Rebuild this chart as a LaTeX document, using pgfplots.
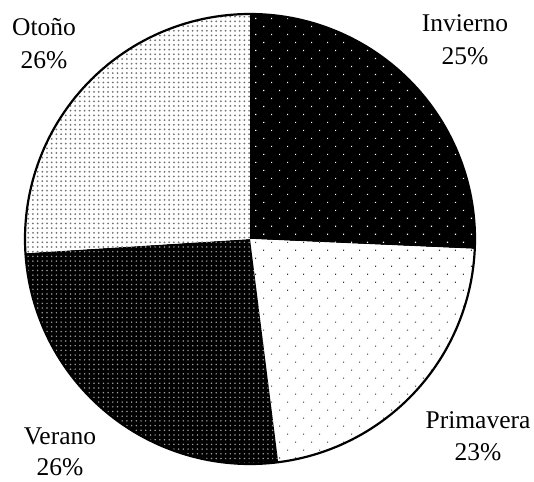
\documentclass[border=0pt]{standalone}
\usepackage{fontspec}
\setmainfont{Liberation Serif}
\usepackage{pgfplots}
\pgfplotsset{compat=1.18}
\usepgfplotslibrary{polar}
\usetikzlibrary{patterns.meta}

% season shares (percent), clockwise from the top
\def\vInvierno{25.7}
\def\vPrimavera{22.3}
\def\vVerano{26.0}
\def\vOtono{26.0}

\begin{document}
\begin{tikzpicture}[x=1bp,y=1bp]
\useasboundingbox (-250,-243) rectangle (284,239);
\pgfmathsetmacro\aA{90}
\pgfmathsetmacro\aB{\aA-3.6*\vInvierno}
\pgfmathsetmacro\aC{\aB-3.6*\vPrimavera}
\pgfmathsetmacro\aD{\aC-3.6*\vVerano}
\pgfmathsetmacro\aE{\aD-3.6*\vOtono}
\begin{polaraxis}[
  at={(0,0)}, anchor=origin,
  scale only axis, width=450bp, height=450bp,
  hide axis, ymin=0, ymax=1, clip=false,
]
% Invierno: black with sparse white dots
\addplot[draw=none, fill=black, domain=\aB:\aA, samples=80,
  postaction={pattern={Dots[distance=11.3bp, angle=45, radius=0.8bp]}, pattern color=white}]
  {1} -- (axis cs:0,0) -- cycle;
% Primavera: white with sparse black dots
\addplot[draw=none, fill=white, domain=\aC:\aB, samples=80,
  postaction={pattern={Dots[distance=11.3bp, angle=45, radius=0.75bp]}, pattern color=black!80}]
  {1} -- (axis cs:0,0) -- cycle;
% Verano: black with dense white dots
\addplot[draw=none, fill=black, domain=\aD:\aC, samples=80,
  postaction={pattern={Dots[distance=4.7bp, radius=0.85bp]}, pattern color=gray!80}]
  {1} -- (axis cs:0,0) -- cycle;
% Otono: white with dense gray dots
\addplot[draw=none, fill=white, domain=\aE:\aD, samples=80,
  postaction={pattern={Dots[distance=4.7bp, radius=1bp]}, pattern color=black!55}]
  {1} -- (axis cs:0,0) -- cycle;
% outline
\addplot[black, line width=2.2bp, domain=0:360, samples=241] {1};
\end{polaraxis}
\begin{scope}[every node/.style={font=\fontsize{25.5bp}{30bp}\selectfont, anchor=base, inner sep=0pt}]
\node at (215,207.3) {Invierno};
\node at (215,174) {25\%};
\node at (-206,203.5) {Otoño};
\node at (-206,170) {26\%};
\node at (228,-189) {Primavera};
\node at (228,-221) {23\%};
\node at (-190,-205) {Verano};
\node at (-190,-236.5) {26\%};
\end{scope}
\end{tikzpicture}
\end{document}
